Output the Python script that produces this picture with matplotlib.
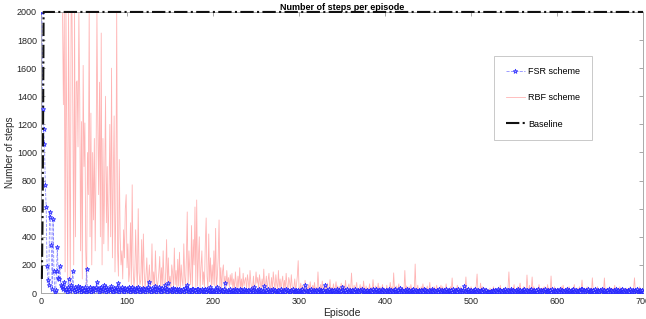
import matplotlib
matplotlib.use('Agg')
import matplotlib.pyplot as plt
import numpy as np

plt.rcParams['font.family'] = ['Liberation Sans', 'DejaVu Sans']

# number of steps per episode (episodes 1..700)
rbf_steps = [int(v) for v in """
2000 2000 2000 2000 2000 2000 2000 2000 2000 2000 2000 2000 2000 2000 2000 2000 2000 2000 2000 2000
2000 2000 2000 2000 2000 1340 2000 150 2000 1070 100 2000 1000 60 2000 2000 1270 200 2000 400
1500 1510 1040 2000 1400 300 1220 100 1620 900 1210 300 60 1000 700 2000 400 1280 200 1000
520 1100 300 900 2000 1200 700 1500 400 1850 200 1100 350 800 1400 500 900 300 700 1200
400 1600 250 800 1260 150 600 2000 300 120 950 400 200 300 100 450 250 600 700 180
350 80 150 500 60 770 200 40 120 450 180 30 600 150 60 90 380 40 420 150
30 120 250 60 100 200 40 80 350 60 150 30 300 120 40 80 150 260 30 180
40 300 80 30 150 380 20 250 60 120 30 200 140 40 320 60 160 30 240 50
290 30 200 90 50 350 120 40 250 577 30 300 150 60 480 40 380 200 612 40
662 50 250 400 30 180 300 60 150 40 350 534 120 30 420 80 250 40 200 60
300 50 460 30 120 250 520 40 180 30 150 200 60 120 30 160 60 110 40 130
60 140 30 100 20 150 70 25 120 40 180 30 100 15 140 50 90 110 20 130
80 20 160 70 30 40 120 15 60 150 70 110 20 130 80 25 100 40 170 30
60 120 20 90 140 30 40 110 15 150 80 25 130 70 20 160 40 100 15 80
120 20 90 30 140 60 15 110 80 25 130 50 20 40 100 15 60 120 230 30
30 70 15 55 25 10 90 20 45 15 60 25 80 10 35 55 20 75 15 40
25 150 35 10 60 20 85 15 45 10 55 25 70 15 30 95 10 40 20 65
15 35 80 10 50 20 45 15 70 10 30 55 15 90 25 10 45 65 15 30
142 25 10 55 15 40 75 10 30 20 60 15 45 10 85 25 15 50 10 35
20 65 10 40 15 95 25 10 50 30 15 70 10 45 20 15 60 10 35 20
15 55 10 30 20 75 15 45 10 143 25 15 50 10 35 65 15 20 10 40
25 15 160 10 50 20 15 45 10 60 25 15 35 10 206 20 15 55 10 30
15 45 10 65 20 15 35 10 50 25 15 75 10 30 20 15 45 10 25 55
10 35 15 25 55 10 45 15 20 10 65 15 30 10 25 45 15 107 10 25
15 35 10 55 20 15 10 45 25 15 30 10 20 114 15 10 35 25 15 45
10 25 15 35 10 55 135 15 25 10 70 15 45 10 20 15 35 10 25 15
10 35 15 25 10 45 15 20 10 30 15 25 10 55 15 10 25 15 35 10
25 15 45 150 15 10 35 25 15 60 10 25 15 45 10 35 70 15 20 10
45 15 25 10 128 35 15 55 10 25 114 15 45 10 25 15 35 10 60 15
25 10 35 15 45 10 25 15 60 10 35 15 121 10 25 15 45 10 25 15
35 10 25 15 45 10 55 25 15 10 35 15 25 45 10 25 15 35 10 60
15 25 10 35 15 45 10 25 92 15 10 35 25 15 45 10 25 15 35 10
108 15 25 10 35 15 45 10 25 15 35 10 25 15 107 10 35 15 25 10
45 15 25 10 35 15 55 10 25 15 35 10 45 15 25 10 35 15 25 10
35 15 25 10 45 15 25 10 35 108 15 25 10 35 15 45 10 25 15 10
""".split()]

fsr_steps = [int(v) for v in """
2000 1310 1170 1060 770 610 190 90 60 580 540 340 30 530 160 10 20 160 330 110
100 190 60 40 30 50 80 20 30 10 40 100 25 15 60 30 160 20 45 10
30 15 50 20 40 10 25 35 15 20 40 10 170 20 30 15 45 10 25 35
15 30 20 40 80 25 10 35 20 45 15 30 60 20 10 40 25 15 30 20
50 15 25 10 35 20 15 45 25 70 10 30 20 40 15 25 10 35 20 30
15 40 20 10 30 45 15 25 10 35 20 15 40 25 10 30 20 15 35 25
10 30 20 40 80 15 25 10 35 20 15 50 25 10 30 20 40 15 25 10
35 20 15 60 25 10 30 70 20 15 25 10 35 20 15 30 10 25 20 15
30 10 20 15 25 10 35 20 15 60 25 10 20 15 30 10 25 15 20 10
25 15 30 10 20 15 25 10 20 15 30 10 25 15 20 10 40 15 20 10
15 25 10 20 45 15 10 25 15 20 10 15 25 70 15 10 20 15 10 25
10 15 20 10 25 15 10 20 15 10 25 15 20 10 15 25 10 20 15 10
20 15 10 25 15 10 20 45 15 10 20 15 25 10 15 20 10 15 50 10
15 20 10 25 15 10 20 15 10 25 15 20 10 15 10 20 15 10 25 15
10 20 15 10 25 15 20 10 15 10 20 15 25 10 15 20 10 15 20 10
15 20 10 25 15 10 60 20 15 10 20 15 10 25 15 10 20 15 10 20
15 10 25 15 20 10 15 20 10 55 15 10 20 15 25 10 15 20 10 15
20 10 15 25 10 15 20 10 15 40 20 10 15 20 10 25 15 10 20 15
10 20 15 10 25 15 10 20 15 10 20 15 25 10 15 20 10 15 20 10
15 10 20 15 10 25 15 10 20 30 10 15 20 10 15 25 10 20 15 10
20 15 10 25 15 10 20 15 10 20 15 25 10 15 20 10 35 15 10 20
15 10 20 15 25 10 15 20 10 15 20 10 25 15 10 20 15 10 20 15
10 20 15 10 25 15 20 10 15 10 20 15 10 25 15 10 20 15 10 20
15 10 25 15 10 20 15 10 20 15 25 10 15 20 10 15 20 10 25 15
10 20 15 10 25 15 10 20 15 10 20 50 15 10 20 15 25 10 15 20
10 15 20 10 25 15 10 20 15 10 20 15 10 25 15 10 20 5 10 5
10 5 15 10 20 15 10 20 15 10 25 15 10 20 15 10 20 15 10 25
15 10 20 15 10 25 15 10 20 15 10 20 15 25 10 15 20 10 15 20
10 25 15 10 20 15 10 20 15 25 10 15 20 10 15 20 10 25 15 10
20 15 10 20 15 25 10 15 20 10 15 20 10 25 15 10 20 15 10 20
15 10 25 15 10 20 15 10 20 15 25 10 15 20 10 15 20 10 25 15
10 20 15 10 20 15 10 25 30 10 20 15 10 20 15 25 10 15 20 10
15 20 10 25 15 10 20 15 10 20 15 25 10 15 20 10 15 20 10 25
15 10 20 15 10 20 15 25 10 15 20 10 15 20 10 25 15 10 20 15
10 20 15 10 25 15 10 20 15 10 20 15 25 10 15 20 10 15 20 10
""".split()]

baseline_steps = [100, 650] + [2000] * 698

x_ticks = [0, 100, 200, 300, 400, 500, 600, 700]
y_ticks = [0, 200, 400, 600, 800, 1000, 1200, 1400, 1600, 1800, 2000]

fig = plt.figure(figsize=(6.46, 3.19), dpi=100)
ax = fig.add_axes([0.0635, 0.0815, 0.932, 0.881])

ep_rbf = np.arange(1, len(rbf_steps) + 1)
ep_fsr = np.arange(1, len(fsr_steps) + 1)
ep_base = np.arange(1, len(baseline_steps) + 1)

l_rbf, = ax.plot(ep_rbf, rbf_steps, color='#ff6a6a', lw=0.6, alpha=0.5, zorder=2)
l_fsr, = ax.plot(ep_fsr, fsr_steps, color='#8080ff', lw=0.6, ls='--', alpha=0.9,
                 marker='*', markersize=3.5, markeredgecolor='#1a1aff',
                 markerfacecolor='#a0a0ff', markeredgewidth=0.5, zorder=3)
l_base, = ax.plot(ep_base, baseline_steps, color='#111111', lw=1.5, ls='-.',
                  zorder=4, clip_on=False)

ax.set_xlim(0, 700)
ax.set_ylim(0, 2000)
ax.set_xticks(x_ticks)
ax.set_yticks(y_ticks)
ax.tick_params(direction='in', top=True, right=True, labelsize=6.5,
               length=3, width=0.6, colors='#999999', labelcolor='#262626', pad=3)
for s in ax.spines.values():
    s.set_color('#aaaaaa')
    s.set_linewidth(0.7)

ax.set_title('Number of steps per episode', fontsize=6.5, fontweight='bold', pad=1.5)
ax.set_xlabel('Episode', fontsize=7.5, labelpad=1, color='#262626')
ax.set_ylabel('Number of steps', fontsize=7, color='#262626')
ax.yaxis.set_label_coords(-0.043, 0.5)

leg = ax.legend([l_fsr, l_rbf, l_base], ['FSR scheme', 'RBF scheme', 'Baseline'],
                loc='upper left', bbox_to_anchor=(0.752, 0.845),
                fontsize=6.5, fancybox=False, edgecolor='#bbbbbb',
                labelspacing=1.9, handlelength=2.2, handletextpad=0.3,
                borderpad=1.3, borderaxespad=0)
leg.get_frame().set_linewidth(0.7)

fig.savefig('out.png', dpi=100)
